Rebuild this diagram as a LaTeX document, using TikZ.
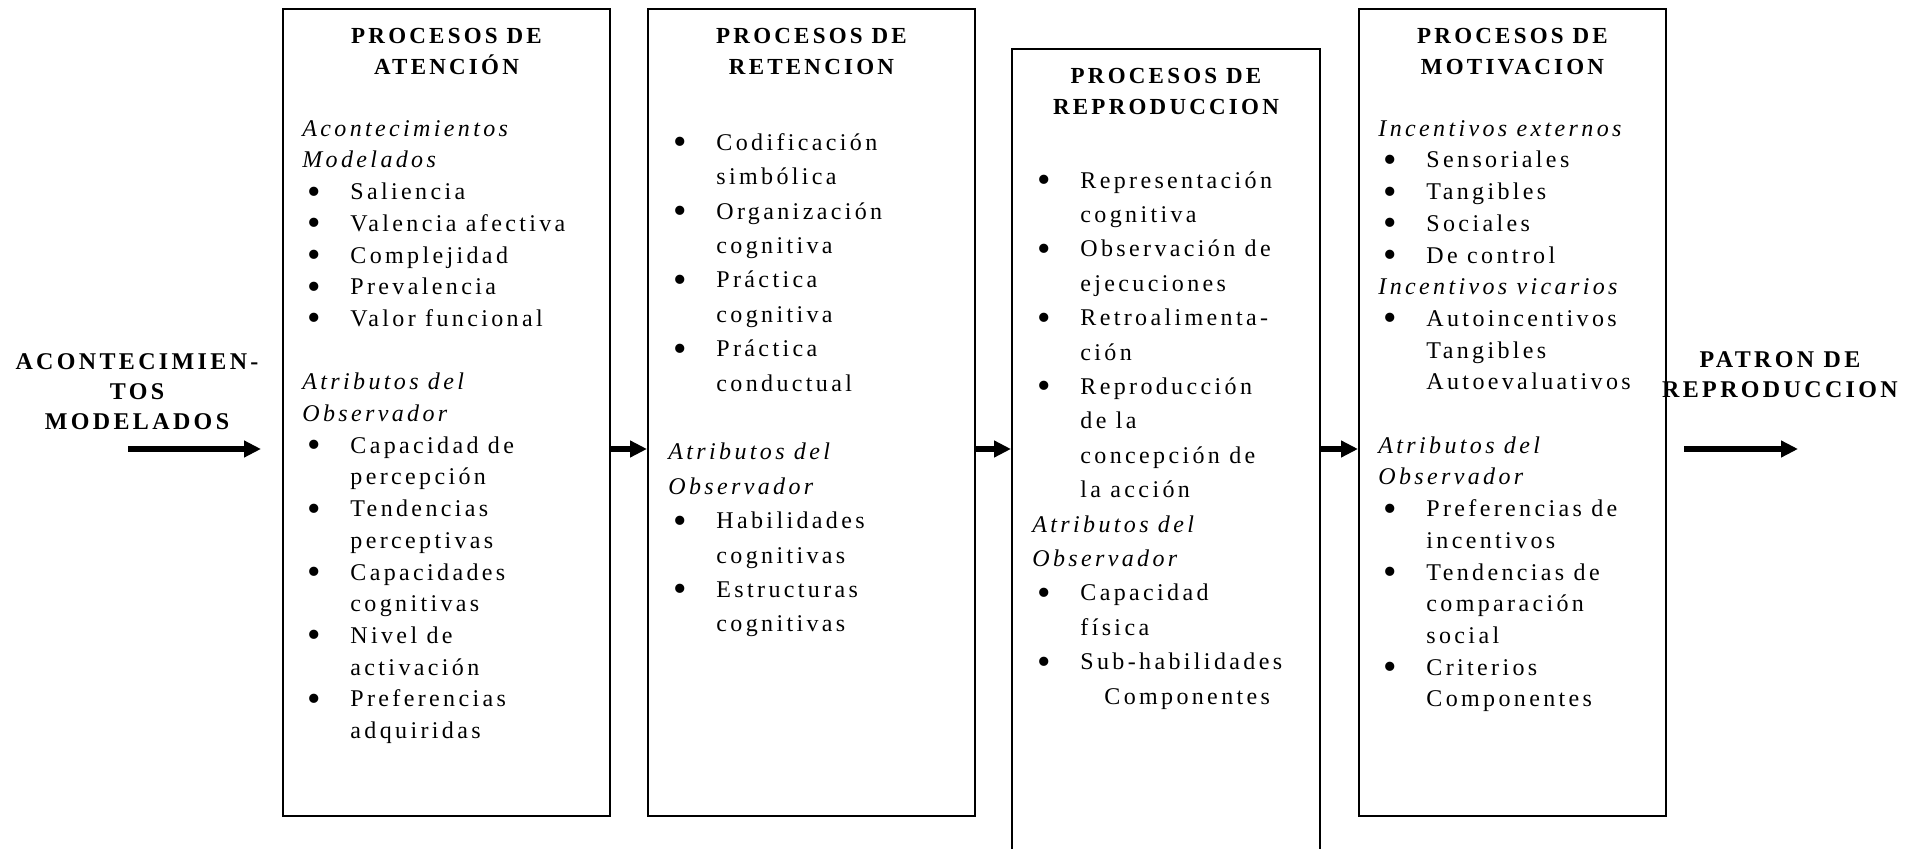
\documentclass[tikz,border=0pt]{standalone}
\usepackage{fontspec}
\setmainfont{Liberation Serif}
\newfontfamily\spaced{Liberation Serif}[LetterSpace=14]
\usetikzlibrary{positioning,arrows.meta}

\newcommand{\bigdot}{\smash{\raisebox{-2.2pt}{\scalebox{1.6}{\textbullet}}}}
\newcommand{\bul}[1]{\makebox[24pt][l]{\hspace{2.5pt}\bigdot}#1}
\newcommand{\cnt}[1]{\hspace*{24pt}#1}

\tikzset{
  procbox/.style={draw, line width=1pt, anchor=north west, inner sep=0pt,
    minimum width=163.5pt, minimum height=403.5pt},
  boxtitle/.style={anchor=north, align=center, inner sep=0pt,
    font=\spaced\bfseries\fontsize{11.5}{15.5}\selectfont},
  boxtext/.style={anchor=north west, align=left, inner sep=0pt,
    font=\spaced\fontsize{12}{15.85}\selectfont},
  widetext/.style={boxtext, font=\spaced\fontsize{12}{17.2}\selectfont},
  sidelabel/.style={align=center, inner sep=0pt,
    font=\spaced\bfseries\fontsize{12}{15}\selectfont},
  flow/.style={line width=3pt, -{Triangle[length=8.5pt,width=8pt]}}
}

\begin{document}
\begin{tikzpicture}[x=0.5pt,y=-0.5pt]
\useasboundingbox (0,0) rectangle (1914,849);

% the four process boxes
\node[procbox] (b1) at (282,8) {};
\node[procbox] (b2) at (647,8) {};
\node[procbox, minimum width=154pt, minimum height=420pt] (b3) at (1011,48) {};
\node[procbox, minimum width=153.5pt] (b4) at (1358,8) {};

% titles
\node[boxtitle] (t1) at ([yshift=-9.75pt]b1.north) {PROCESOS DE\\ATENCIÓN};
\node[boxtitle] (t2) at ([yshift=-9.75pt]b2.north) {PROCESOS DE\\RETENCION};
\node[boxtitle] (t3) at ([yshift=-9.75pt]b3.north) {PROCESOS DE\\REPRODUCCION};
\node[boxtitle] (t4) at ([yshift=-9.75pt]b4.north) {PROCESOS DE\\MOTIVACION};

% contents
\node[boxtext] (c1) at (302,120) {%
  \textit{Acontecimientos}\\
  \textit{Modelados}\\
  \bul{Saliencia}\\
  \bul{Valencia afectiva}\\
  \bul{Complejidad}\\
  \bul{Prevalencia}\\
  \bul{Valor funcional}\\[15.85pt]
  \textit{Atributos del}\\
  \textit{Observador}\\
  \bul{Capacidad de}\\
  \cnt{percepción}\\
  \bul{Tendencias}\\
  \cnt{perceptivas}\\
  \bul{Capacidades}\\
  \cnt{cognitivas}\\
  \bul{Nivel de}\\
  \cnt{activación}\\
  \bul{Preferencias}\\
  \cnt{adquiridas}};

\node[widetext] (c2) at (668,133) {%
  \bul{Codificación}\\
  \cnt{simbólica}\\
  \bul{Organización}\\
  \cnt{cognitiva}\\
  \bul{Práctica}\\
  \cnt{cognitiva}\\
  \bul{Práctica}\\
  \cnt{conductual}\\[17.2pt]
  \textit{Atributos del}\\
  \textit{Observador}\\
  \bul{Habilidades}\\
  \cnt{cognitivas}\\
  \bul{Estructuras}\\
  \cnt{cognitivas}};

\node[widetext] (c3) at (1032,171) {%
  \bul{Representación}\\
  \cnt{cognitiva}\\
  \bul{Observación de}\\
  \cnt{ejecuciones}\\
  \bul{Retroalimenta-}\\
  \cnt{ción}\\
  \bul{Reproducción}\\
  \cnt{de la}\\
  \cnt{concepción de}\\
  \cnt{la acción}\\
  \textit{Atributos del}\\
  \textit{Observador}\\
  \bul{Capacidad}\\
  \cnt{física}\\
  \bul{Sub-habilidades}\\
  \hspace*{36pt}Componentes};

\node[boxtext] (c4) at (1378,120) {%
  \textit{Incentivos externos}\\
  \bul{Sensoriales}\\
  \bul{Tangibles}\\
  \bul{Sociales}\\
  \bul{De control}\\
  \textit{Incentivos vicarios}\\
  \bul{Autoincentivos}\\
  \cnt{Tangibles}\\
  \cnt{Autoevaluativos}\\[15.85pt]
  \textit{Atributos del}\\
  \textit{Observador}\\
  \bul{Preferencias de}\\
  \cnt{incentivos}\\
  \bul{Tendencias de}\\
  \cnt{comparación}\\
  \cnt{social}\\
  \bul{Criterios}\\
  \cnt{Componentes}};

% side labels
\node[sidelabel] (src) at (137,392) {ACONTECIMIEN-\\TOS\\MODELADOS};
\node[sidelabel] (dst) at (1780,375) {PATRON DE\\REPRODUCCION};

% arrows
\coordinate (lvl) at (0,449);
\coordinate (inS) at (128,449);
\coordinate (inE) at (261,449);
\coordinate (outS) at (1684,449);
\coordinate (outE) at (1798,449);
\draw[flow] (inS) -- (inE);
\draw[flow] (b1.east |- lvl) -- (b2.west |- lvl);
\draw[flow] (b2.east |- lvl) -- (b3.west |- lvl);
\draw[flow] (b3.east |- lvl) -- (b4.west |- lvl);
\draw[flow] (outS) -- (outE);
\end{tikzpicture}
\end{document}
